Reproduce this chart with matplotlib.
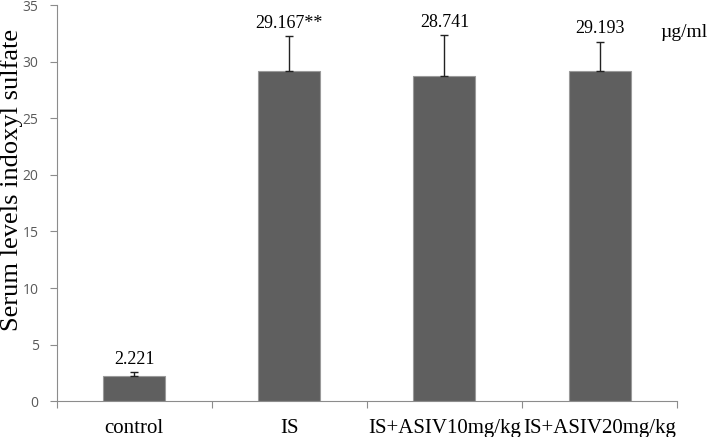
import numpy as np
import matplotlib.pyplot as plt

groups = ["control", "IS", "IS+ASIV10mg/kg", "IS+ASIV20mg/kg"]
means = [2.221, 29.167, 28.741, 29.193]
errs = [0.35, 3.1, 3.6, 2.6]
labels = ["2.221", "29.167**", "28.741", "29.193"]

serif = "Liberation Serif"
gray = "#8c8c8c"

fig = plt.figure(figsize=(7.09, 4.37), dpi=100)
ax = fig.add_axes([0.080, 0.082, 0.875, 0.906])

x = np.arange(len(groups))
ax.bar(x, means, width=0.4, color="#5f5f5f", edgecolor="#9a9a9a", linewidth=0.8, zorder=2)
ax.errorbar(x, means, yerr=[np.zeros(len(errs)), errs], fmt="none",
            ecolor="#222222", elinewidth=1.0, capsize=3, capthick=1.0, zorder=3)

for xi, m, e, t in zip(x, means, errs, labels):
    ax.text(xi, m + e + 0.4, t, ha="center", va="bottom", fontsize=13, family=serif)

ax.set_xlim(-0.5, 3.5)
ax.set_ylim(0, 35)
ax.set_yticks(np.arange(0, 36, 5))
ax.set_xticks(np.arange(-0.5, 4, 1), minor=False)
ax.set_xticklabels([])
ax.set_xticks(x, minor=True)
ax.set_xticklabels(groups, minor=True, fontsize=15, family=serif)
ax.tick_params(axis="x", which="minor", length=0, pad=13)
ax.tick_params(axis="x", which="major", length=5, color=gray, direction="out")
ax.tick_params(axis="y", length=5, color=gray, labelsize=10, labelcolor="#595959", pad=8)
for t in ax.get_yticklabels():
    t.set_family("Open Sans")

for s in ["top", "right"]:
    ax.spines[s].set_visible(False)
ax.spines["left"].set_color(gray)
ax.spines["bottom"].set_color(gray)

ax.set_ylabel("Serum levels indoxyl sulfate", fontsize=19, family=serif)
ax.yaxis.set_label_coords(-0.054, 0.56)
fig.text(0.965, 0.925, "\u00b5g/ml", fontsize=14, family=serif, ha="center", va="center")

fig.savefig("out.png", dpi=100)
